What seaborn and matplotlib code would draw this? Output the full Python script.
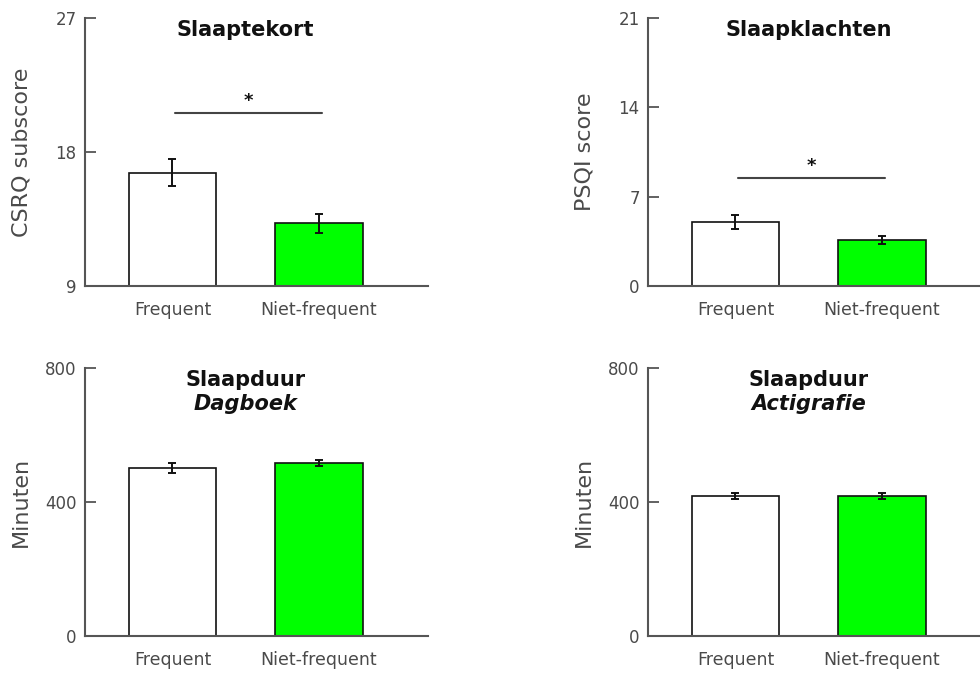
import matplotlib
matplotlib.use("Agg")
import matplotlib.pyplot as plt
import matplotlib.transforms as mtransforms
import seaborn as sns
import pandas as pd

# Groups and per-panel means / standard errors
groups = ["Frequent", "Niet-frequent"]

slaaptekort_mean = [16.6, 13.2]
slaaptekort_err = [0.9, 0.65]

slaapklachten_mean = [5.0, 3.6]
slaapklachten_err = [0.55, 0.3]

dagboek_mean = [501, 516]
dagboek_err = [15, 10]

actigrafie_mean = [418, 419]
actigrafie_err = [8, 9]

bar_colors = ["#ffffff", "#00ff00"]

sns.set_theme(style="white")
plt.rcParams["font.family"] = ["DejaVu Sans"]

fig = plt.figure(figsize=(9.8, 6.73), dpi=100)

W = 343 / 980
H = 268 / 673
positions = [
    (85 / 980, 1 - 286 / 673),
    (648 / 980, 1 - 286 / 673),
    (85 / 980, 1 - 636 / 673),
    (648 / 980, 1 - 636 / 673),
]

panels = [
    dict(mean=slaaptekort_mean, err=slaaptekort_err, ylim=(9, 27), ticks=[9, 18, 27],
         ylabel="CSRQ subscore", title="Slaaptekort", sub=None, sig=(20.6, 21.4)),
    dict(mean=slaapklachten_mean, err=slaapklachten_err, ylim=(0, 21), ticks=[0, 7, 14, 21],
         ylabel="PSQI score", title="Slaapklachten", sub=None, sig=(8.45, 9.4)),
    dict(mean=dagboek_mean, err=dagboek_err, ylim=(0, 800), ticks=[0, 400, 800],
         ylabel="Minuten", title="Slaapduur", sub="Dagboek", sig=None),
    dict(mean=actigrafie_mean, err=actigrafie_err, ylim=(0, 800), ticks=[0, 400, 800],
         ylabel="Minuten", title="Slaapduur", sub="Actigrafie", sig=None),
]

spine_color = "#555555"
text_color = "#4a4a4a"

for (left, bottom), p in zip(positions, panels):
    ax = fig.add_axes([left, bottom, W, H])
    df = pd.DataFrame({"groep": groups, "waarde": p["mean"]})
    sns.barplot(data=df, x="groep", y="waarde", hue="groep", palette=bar_colors,
                saturation=1, legend=False, width=0.6, edgecolor="#111111",
                linewidth=1.2, errorbar=None, ax=ax, zorder=2)
    ax.errorbar(range(len(groups)), p["mean"], yerr=p["err"], fmt="none",
                ecolor="#111111", elinewidth=1.4, capsize=2.6, capthick=1.4, zorder=3)

    ax.set_xlim(-0.597, 1.744)
    ax.set_ylim(*p["ylim"])
    ax.set_yticks(p["ticks"])
    ax.set_yticklabels([str(t) for t in p["ticks"]])
    ax.set_xlabel("")
    ax.set_ylabel(p["ylabel"], fontsize=16, color=text_color)
    ax.yaxis.set_label_coords(-0.157, 0.5)

    for side in ["top", "right"]:
        ax.spines[side].set_visible(False)
    for side in ["left", "bottom"]:
        ax.spines[side].set_color(spine_color)
        ax.spines[side].set_linewidth(1.5)

    ax.tick_params(axis="y", direction="in", length=8, width=1.3, color=spine_color,
                   labelsize=12, labelcolor=text_color, pad=6, left=True)
    ax.tick_params(axis="x", length=0, labelsize=12.5, labelcolor=text_color, pad=11)
    ax.grid(False)

    trans = mtransforms.blended_transform_factory(ax.transData, ax.transAxes)
    ax.text(0.5, 0.957, p["title"], transform=trans, ha="center", va="center",
            fontsize=15, fontweight="bold", color="#111111")
    if p["sub"]:
        ax.text(0.5, 0.866, p["sub"], transform=trans, ha="center", va="center",
                fontsize=15, fontweight="bold", fontstyle="italic", color="#111111")

    if p["sig"]:
        y_line, y_star = p["sig"]
        ax.plot([0.02, 1.02], [y_line, y_line], color="#444444", lw=1.5, zorder=3)
        ax.text(0.52, y_star, "*", ha="center", va="center", fontsize=13,
                fontweight="bold", color="#111111")

fig.savefig("out.png", dpi=100)
